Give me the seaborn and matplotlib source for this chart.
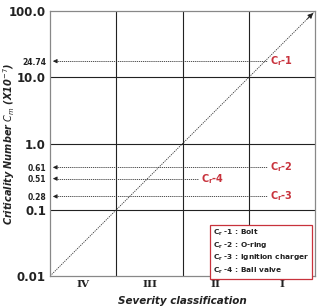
import matplotlib
matplotlib.use("Agg")
import matplotlib.pyplot as plt
import seaborn as sns
import numpy as np
import pandas as pd

# Données
severity = ["IV", "III", "II", "I"]
diag_x = [0, 4]
diag_y = [0.01, 100]
cr_names = ["1", "2", "3", "4"]
cr_labels = ["24.74", "0.61", "0.28", "0.51"]
# hauteur où les flèches sont dessinées sur la figure d'origine
cr_pos = [17.5, 0.437, 0.159, 0.295]
cr_ends = [3.28, 3.28, 3.28, 2.23]
cr_legend = ["Bolt", "O-ring", "Ignition charger", "Ball valve"]
major_ticks = [0.01, 0.1, 1.0, 10.0, 100.0]
major_labels = ["0.01", "0.1", "1.0", "10.0", "100.0"]

RED = "#c8323c"

sns.set_style("white")
fig = plt.figure(figsize=(3.19, 3.06), dpi=100)
ax = fig.add_axes([0.157, 0.098, 0.831, 0.866])

df_diag = pd.DataFrame({"x": diag_x, "y": diag_y})
sns.lineplot(data=df_diag, x="x", y="y", ax=ax, color="#333333", lw=0.6,
             linestyle=(0, (1.5, 1.2)))
ax.annotate("", xy=(4, 100), xytext=(3.85, 10 ** 1.85),
            arrowprops=dict(arrowstyle="-|>", color="#222222", lw=0.6,
                            mutation_scale=8))

ax.set_yscale("log")
ax.set_xlim(0, 4)
ax.set_ylim(0.01, 100)

# grille
for v in [0.1, 1.0, 10.0]:
    ax.axhline(v, color="#222222", lw=0.8, zorder=1)
for v in [1, 2, 3]:
    ax.axvline(v, color="#222222", lw=0.8, zorder=1)
for s in ax.spines.values():
    s.set_color("#888888")
    s.set_linewidth(0.9)

# flèches horizontales
for name, val, end in zip(cr_names, cr_pos, cr_ends):
    ax.plot([0.08, end], [val, val], color="#333333", lw=0.6,
            linestyle=(0, (1.5, 1.0)))
    ax.annotate("", xy=(0, val), xytext=(0.12, val),
                arrowprops=dict(arrowstyle="-|>", color="#222222", lw=0.6,
                                mutation_scale=6))
    ax.text(end + 0.04, val, "C$_{\\mathbf{r}}$-" + name, color=RED,
            fontsize=7, fontweight="bold", va="center", ha="left")

# ticks
yt = major_ticks + cr_pos
yl = major_labels + cr_labels
ax.set_yticks(yt)
ax.set_yticklabels(yl)
ax.yaxis.set_minor_locator(matplotlib.ticker.NullLocator())
for lab, v in zip(ax.get_yticklabels(), yt):
    lab.set_fontweight("bold")
    lab.set_color("#222222")
    lab.set_fontsize(8.5 if v in major_ticks else 5.5)
ax.set_xticks([0.5, 1.5, 2.5, 3.5])
ax.set_xticklabels(severity, family="DejaVu Serif", fontweight="bold",
                   fontsize=7.5, color="#222222")
ax.tick_params(length=0, pad=3)

ax.set_ylabel("Criticality Number $C_{m}$ (X10$^{-7}$)",
              fontsize=7, fontweight="bold", style="italic", color="#222222")
ax.yaxis.set_label_coords(-0.125, 0.5)
ax.set_xlabel("Severity classification", fontsize=7.5, fontweight="bold",
              style="italic", color="#222222", labelpad=5)

leg = "\n".join(f"C$_{{\\mathbf{{r}}}}$ -{n} : {t}" for n, t in zip(cr_names, cr_legend))
ax.text(0.615, 0.0, leg, transform=ax.transAxes, fontsize=5.3,
        fontweight="bold", color="#222222", va="bottom", ha="left",
        linespacing=1.35,
        bbox=dict(boxstyle="square,pad=0.45", fc="white", ec=RED, lw=0.9),
        zorder=5)

fig.savefig("out.png", dpi=100)
